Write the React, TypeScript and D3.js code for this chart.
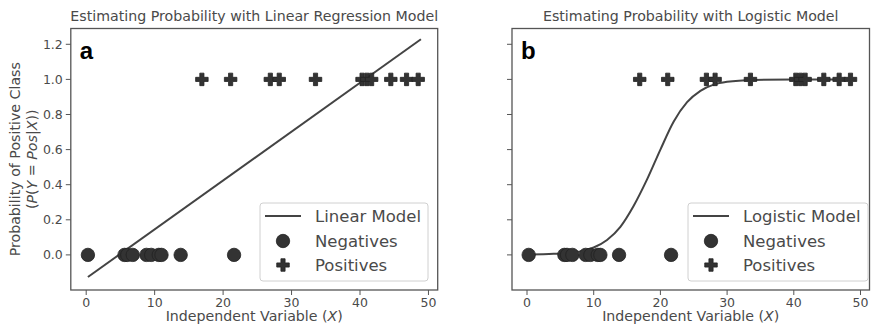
import React from "react";
import * as d3 from "d3";

// ---------- data ----------
const NEG_X = [0.25, 5.6, 6.0, 6.8, 8.8, 9.5, 10.6, 11.0, 13.8, 21.6];
const POS_X = [16.9, 21.1, 26.9, 28.2, 33.5, 40.3, 41.0, 41.7, 44.5, 46.8, 48.5];
const LINEAR_X = [0.25, 48.9];
const LINEAR_Y = [-0.126, 1.229];
const LOGIT_X = [0.25, 4, 8, 10, 12, 14, 16, 18, 20, 22, 24, 26, 28, 30, 34, 40, 49];
const LOGIT_Y = [0.002, 0.006, 0.02, 0.042, 0.085, 0.16, 0.28, 0.43, 0.6, 0.76, 0.87, 0.935, 0.97, 0.986, 0.997, 1.0, 1.0];
const X_TICKS = [0, 10, 20, 30, 40, 50];
const Y_TICKS = [0, 0.2, 0.4, 0.6, 0.8, 1.0, 1.2];
const X_DOMAIN = [-2.25, 51.35];
const Y_DOMAIN = [-0.2, 1.29];

const FONT = "DejaVu Sans, sans-serif";
const TXT = "#4a4a4a";
const AX = "#555";
const MK = "#333";

const W = 871;
const H = 330;
const TOP = 28.5;
const BOTTOM = 290;

function plusPath(cx: number, cy: number, s: number) {
  const a = s / 6;
  const pts = [
    [-1, -3], [1, -3], [1, -1], [3, -1], [3, 1], [1, 1],
    [1, 3], [-1, 3], [-1, 1], [-3, 1], [-3, -1], [-1, -1],
  ];
  return "M" + pts.map(([x, y]) => `${cx + x * a},${cy + y * a}`).join("L") + "Z";
}

type PanelProps = {
  x0: number;
  x1: number;
  title: string;
  letter: string;
  legendLabel: string;
  legendX: number;
  legendW: number;
  showYLabels: boolean;
  model: "linear" | "logistic";
};

function Panel(p: PanelProps) {
  const x = d3.scaleLinear().domain(X_DOMAIN).range([p.x0, p.x1]);
  const y = d3.scaleLinear().domain(Y_DOMAIN).range([BOTTOM, TOP]);
  const line = d3
    .line<[number, number]>()
    .x((d) => x(d[0]))
    .y((d) => y(d[1]));
  let pathD = "";
  if (p.model === "linear") {
    pathD = line(LINEAR_X.map((v, i) => [v, LINEAR_Y[i]] as [number, number])) || "";
  } else {
    pathD =
      line.curve(d3.curveMonotoneX)(
        LOGIT_X.map((v, i) => [v, LOGIT_Y[i]] as [number, number])
      ) || "";
  }
  const cx = (p.x0 + p.x1) / 2;
  const lx = p.legendX;
  const ly = 203;
  const rows = [216, 241, 265];
  return (
    <g>
      <text x={cx} y={21} textAnchor="middle" fontFamily={FONT} fontSize={14.2} fill={TXT}>
        {p.title}
      </text>
      {/* frame */}
      <rect x={p.x0} y={TOP} width={p.x1 - p.x0} height={BOTTOM - TOP} fill="white" stroke={AX} strokeWidth={1.3} />
      {/* y ticks */}
      {Y_TICKS.map((t) => (
        <g key={"y" + t}>
          <line x1={p.x0 - 5} x2={p.x0} y1={y(t)} y2={y(t)} stroke={AX} strokeWidth={1} />
          {p.showYLabels && (
            <text x={p.x0 - 8} y={y(t)} dy="0.35em" textAnchor="end" fontFamily={FONT} fontSize={12.5} fill={TXT}>
              {t.toFixed(1)}
            </text>
          )}
        </g>
      ))}
      {/* x ticks */}
      {X_TICKS.map((t) => (
        <g key={"x" + t}>
          <line x1={x(t)} x2={x(t)} y1={BOTTOM} y2={BOTTOM + 5} stroke={AX} strokeWidth={1} />
          <text x={x(t)} y={306.5} textAnchor="middle" fontFamily={FONT} fontSize={12.5} fill={TXT}>
            {t}
          </text>
        </g>
      ))}
      <text x={cx} y={321} textAnchor="middle" fontFamily={FONT} fontSize={14.2} fill={TXT}>
        Independent Variable (<tspan fontStyle="italic">X</tspan>)
      </text>
      {/* model line */}
      <path d={pathD} fill="none" stroke="#444" strokeWidth={2} />
      {/* negatives */}
      {NEG_X.map((v, i) => (
        <circle key={"n" + i} cx={x(v)} cy={y(0)} r={6.7} fill={MK} stroke="#222" strokeWidth={0.8} />
      ))}
      {/* positives */}
      {POS_X.map((v, i) => (
        <path key={"p" + i} d={plusPath(x(v), y(1), 12.5)} fill={MK} stroke="#222" strokeWidth={0.8} />
      ))}
      {/* letter */}
      <text x={p.x0 + 9} y={59} fontFamily="Liberation Sans, Arial, sans-serif" fontWeight="bold" fontSize={24} fill="#000">
        {p.letter}
      </text>
      {/* legend */}
      <rect x={lx} y={ly} width={p.legendW} height={78} rx={3} fill="white" fillOpacity={0.85} stroke="#d0d0d0" strokeWidth={1} />
      <line x1={lx + 5} x2={lx + 41} y1={rows[0]} y2={rows[0]} stroke="#444" strokeWidth={2} />
      <circle cx={lx + 23} cy={rows[1]} r={6.7} fill={MK} stroke="#222" strokeWidth={0.8} />
      <path d={plusPath(lx + 23, rows[2], 12.5)} fill={MK} stroke="#222" strokeWidth={0.8} />
      {[p.legendLabel, "Negatives", "Positives"].map((s, i) => (
        <text key={s} x={lx + 55} y={rows[i]} dy="0.36em" fontFamily={FONT} fontSize={16.5} fill={TXT}>
          {s}
        </text>
      ))}
    </g>
  );
}

export default function App() {
  return (
    <svg width={W} height={H} style={{ display: "block", position: "absolute", left: 0, top: 0 }}>
      <rect width={W} height={H} fill="white" />
      <Panel
        x0={70.8}
        x1={437.7}
        title="Estimating Probability with Linear Regression Model"
        letter="a"
        legendLabel="Linear Model"
        legendX={260}
        legendW={168}
        showYLabels={true}
        model="linear"
      />
      <Panel
        x0={512}
        x1={869.5}
        title="Estimating Probability with Logistic Model"
        letter="b"
        legendLabel="Logistic Model"
        legendX={688}
        legendW={180}
        showYLabels={false}
        model="logistic"
      />
      <g fontFamily={FONT} fontSize={14.2} fill={TXT}>
        <text transform={`translate(20,${(TOP + BOTTOM) / 2}) rotate(-90)`} textAnchor="middle">
          Probability of Positive Class
        </text>
        <text transform={`translate(37,${(TOP + BOTTOM) / 2}) rotate(-90)`} textAnchor="middle">
          (<tspan fontStyle="italic">P</tspan>(<tspan fontStyle="italic">Y</tspan> = <tspan fontStyle="italic">Pos</tspan>|<tspan fontStyle="italic">X</tspan>))
        </text>
      </g>
    </svg>
  );
}
